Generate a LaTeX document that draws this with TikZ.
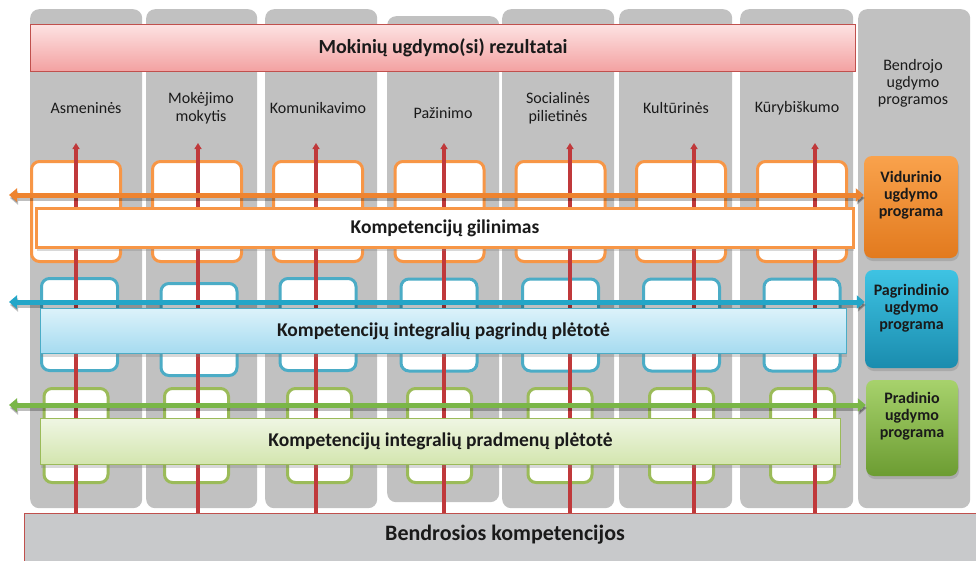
\documentclass[tikz,border=0pt]{standalone}
\usepackage{fontspec}
\setmainfont{Carlito}
\usetikzlibrary{arrows.meta,shadows}
\definecolor{colgray}{HTML}{C1C1C1}
\definecolor{txt}{HTML}{1A1A1A}
\definecolor{redarr}{HTML}{C0393B}
\definecolor{orgline}{HTML}{F79646}
\definecolor{orgarr}{HTML}{EE8430}
\definecolor{bluline}{HTML}{4BACC6}
\definecolor{bluarr}{HTML}{23A6C8}
\definecolor{grnline}{HTML}{9BBB59}
\definecolor{grnarr}{HTML}{7AB648}
\definecolor{pinktop}{HTML}{FDE2E2}
\definecolor{pinkbot}{HTML}{F3A1A1}
\definecolor{pinkline}{HTML}{C0504D}
\definecolor{blutop}{HTML}{DCF2FA}
\definecolor{blubot}{HTML}{A5DBF0}
\definecolor{grntop}{HTML}{EFF6E3}
\definecolor{grnbot}{HTML}{D3E5AE}
\definecolor{vidtop}{HTML}{F9A24C}
\definecolor{vidbot}{HTML}{E27A1E}
\definecolor{pagtop}{HTML}{3EC3E3}
\definecolor{pagbot}{HTML}{1A8CAE}
\definecolor{pratop}{HTML}{A7D26C}
\definecolor{prabot}{HTML}{6C9C32}
\definecolor{bendfill}{HTML}{C8C9CB}
\tikzset{
  colbox/.style={fill=colgray, rounded corners=9pt, inner sep=0pt, anchor=north west},
  obox/.style={draw=orgline, line width=3pt, fill=white, rounded corners=8pt, minimum width=89pt, minimum height=100pt, inner sep=0pt},
  bbox/.style={draw=bluline, line width=3pt, fill=white, rounded corners=8pt, minimum width=76pt, minimum height=92pt, inner sep=0pt},
  gbox/.style={draw=grnline, line width=3pt, fill=white, rounded corners=8pt, minimum width=64pt, minimum height=94pt, inner sep=0pt},
  redup/.style={draw=redarr, line width=3.4pt, -{Triangle[width=7pt,length=6pt]}},
  harr/.style={line width=5pt, {Triangle[width=13pt,length=8pt]}-{Triangle[width=13pt,length=8pt]}},
  hshadow/.style={harr, draw=black, opacity=0.25},
  bartext/.style={font=\bfseries\fontsize{19.5}{22}\selectfont, text=txt},
  collabel/.style={font=\fontsize{16}{18}\selectfont, text=txt, align=center},
  progbox/.style={rounded corners=8pt, inner sep=0pt,
     drop shadow={shadow xshift=1pt, shadow yshift=-3pt, opacity=0.35}},
  progtext/.style={align=center, font=\bfseries\fontsize{16}{17}\selectfont, text=txt},
}
\begin{document}
\begin{tikzpicture}[x=1pt,y=-1pt]
\useasboundingbox (0,0) rectangle (976,560);
\clip (0,0) rectangle (976,560);
\fill[white] (0,0) rectangle (976,560);
% columns
\node[colbox, minimum width=112pt, minimum height=499pt] (col1) at (30,9) {};
\node[colbox, minimum width=111pt, minimum height=499pt] (col2) at (146,9) {};
\node[colbox, minimum width=112pt, minimum height=499pt] (col3) at (265,9) {};
\node[colbox, minimum width=112pt, minimum height=486pt] (col4) at (387,16) {};
\node[colbox, minimum width=112pt, minimum height=499pt] (col5) at (502,9) {};
\node[colbox, minimum width=113pt, minimum height=499pt] (col6) at (619,9) {};
\node[colbox, minimum width=113pt, minimum height=499pt] (col7) at (740,9) {};
\node[colbox, minimum width=112pt, minimum height=499pt] (col8) at (858,9) {};
% header
\node[draw=pinkline, line width=1.5pt, top color=pinktop, bottom color=pinkbot, minimum width=825pt, minimum height=47pt, inner sep=0pt,
  font=\bfseries\fontsize{20}{22}\selectfont, text=txt] (head) at (443,48) {Mokinių ugdymo(si) rezultatai};
% column labels
\node[collabel] (l1) at (86,108) {Asmeninės};
\node[collabel] (l2) at (201,108) {Mokėjimo\\mokytis};
\node[collabel] (l3) at (318,108) {Komunikavimo};
\node[collabel] (l4) at (443,113) {Pažinimo};
\node[collabel] (l5) at (558,108) {Socialinės\\pilietinės};
\node[collabel] (l6) at (676,108) {Kultūrinės};
\node[collabel] (l7) at (797,108) {Kūrybiškumo};
\node[collabel, font=\fontsize{16}{17}\selectfont] (l8) at (913,83) {Bendrojo\\ugdymo\\programos};
% small boxes
\foreach \i/\x in {1/76,2/197,3/318,4/439.5,5/560.5,6/681,7/802}
  \node[obox] (o\i) at (\x,211.5) {};
\foreach \i/\x/\y in {1/79.5/324.5,2/199/329.5,3/318/324.5,4/439/325,5/560.5/325,6/681.5/325,7/802/325}
  \node[bbox] (b\i) at (\x,\y) {};
\foreach \i/\x in {1/76,2/196.5,3/319.5,4/439.5,5/560,6/681.5,7/802.5}
  \node[gbox] (g\i) at (\x,435.5) {};
% bottom box
\node[draw=pinkline, line width=1pt, fill=bendfill, anchor=north west, minimum width=960pt, minimum height=55pt, inner sep=0pt] (bend) at (24,513) {};
\node[font=\bfseries\fontsize{22}{24}\selectfont, text=txt] (bendt) at (505,535) {Bendrosios kompetencijos};
% red arrows
\foreach \i/\x in {1/76,2/198,3/316,4/444,5/570,6/694,7/815} {
  \coordinate (rt\i) at (\x,143);
  \draw[redup] (rt\i |- bend.north) -- (rt\i);
}
% program boxes
\node[progbox, top color=vidtop, bottom color=vidbot, minimum width=94pt, minimum height=102pt] (vid) at (911,207) {};
\node[progtext] (vidt) at (911,195) {Vidurinio\\ugdymo\\programa};
\node[progbox, top color=pagtop, bottom color=pagbot, minimum width=93pt, minimum height=98pt] (pag) at (911.5,319) {};
\node[progtext] (pagt) at (911.5,308) {Pagrindinio\\ugdymo\\programa};
\node[progbox, top color=pratop, bottom color=prabot, minimum width=92pt, minimum height=96pt] (pra) at (912,428) {};
\node[progtext] (prat) at (912,416) {Pradinio\\ugdymo\\programa};
% horizontal arrows
\coordinate (ho) at (9,195);
\coordinate (hb) at (9,302);
\coordinate (hg) at (9,405);
\draw[hshadow] ([shift={(1,3)}]ho) -- ([shift={(1,3)}]ho -| vid.west);
\draw[harr, draw=orgarr] (ho) -- (ho -| vid.west);
\draw[hshadow] ([shift={(1,3)}]hb) -- ([shift={(1,3)}]hb -| pag.west);
\draw[harr, draw=bluarr] (hb) -- (hb -| pag.west);
\draw[hshadow] ([shift={(1,3)}]hg) -- ([shift={(1,3)}]hg -| pra.west);
\draw[harr, draw=grnarr] (hg) -- (hg -| pra.west);
% bars
\node[draw=orgline, line width=3pt, fill=white, minimum width=817pt, minimum height=39pt, inner sep=0pt,
  drop shadow={shadow xshift=0pt, shadow yshift=-3pt, opacity=0.3}] (obar) at (445,228) {};
\node[bartext] (obart) at (445,228) {Kompetencijų gilinimas};
\node[draw=bluline, line width=1.2pt, top color=blutop, bottom color=blubot, minimum width=806pt, minimum height=45pt, inner sep=0pt,
  drop shadow={shadow xshift=0pt, shadow yshift=-3pt, opacity=0.3}] (bbar) at (443.5,331) {};
\node[bartext] (bbart) at (443.5,331) {Kompetencijų integralių pagrindų plėtotė};
\node[draw=grnline, line width=1.2pt, top color=grntop, bottom color=grnbot, minimum width=800pt, minimum height=46pt, inner sep=0pt,
  drop shadow={shadow xshift=0pt, shadow yshift=-3pt, opacity=0.3}] (gbar) at (440.5,441.5) {};
\node[bartext] (gbart) at (440.5,441.5) {Kompetencijų integralių pradmenų plėtotė};
\end{tikzpicture}
\end{document}
